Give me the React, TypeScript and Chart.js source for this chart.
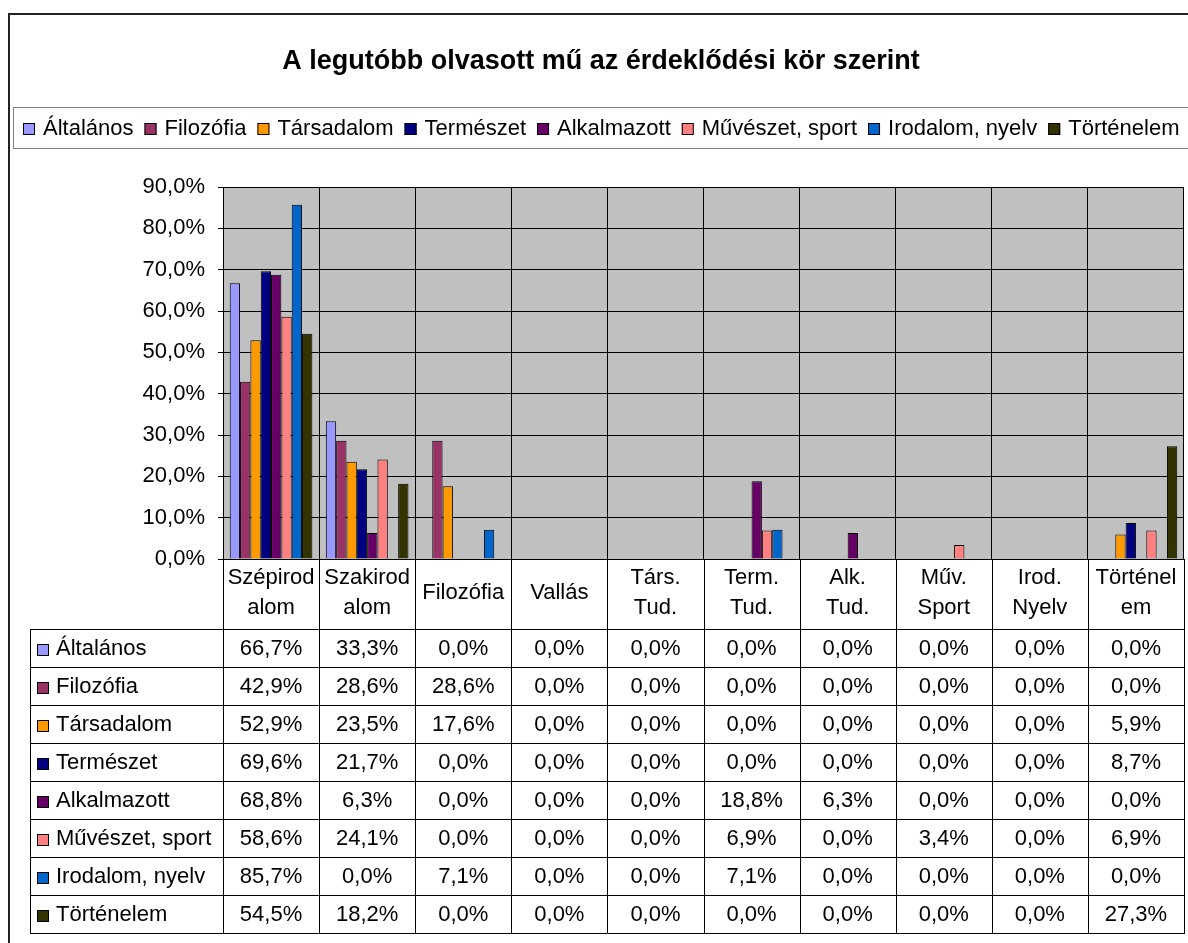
import React, { useEffect, useRef } from "react";
import { Chart, registerables } from "chart.js";

Chart.register(...registerables);

const TITLE = "A legutóbb olvasott mű az érdeklődési kör szerint";

const categoryLines: string[][] = [
  ["Szépirod", "alom"],
  ["Szakirod", "alom"],
  ["Filozófia"],
  ["Vallás"],
  ["Társ.", "Tud."],
  ["Term.", "Tud."],
  ["Alk.", "Tud."],
  ["Műv.", "Sport"],
  ["Irod.", "Nyelv"],
  ["Történel", "em"],
];

const seriesNames = [
  "Általános",
  "Filozófia",
  "Társadalom",
  "Természet",
  "Alkalmazott",
  "Művészet, sport",
  "Irodalom, nyelv",
  "Történelem",
];

const seriesColors = [
  "#9999FF",
  "#993366",
  "#FF9900",
  "#000080",
  "#660066",
  "#FF8080",
  "#0066CC",
  "#333300",
];

const altalanos = [66.7, 33.3, 0, 0, 0, 0, 0, 0, 0, 0];
const filozofia = [42.9, 28.6, 28.6, 0, 0, 0, 0, 0, 0, 0];
const tarsadalom = [52.9, 23.5, 17.6, 0, 0, 0, 0, 0, 0, 5.9];
const termeszet = [69.6, 21.7, 0, 0, 0, 0, 0, 0, 0, 8.7];
const alkalmazott = [68.8, 6.3, 0, 0, 0, 18.8, 6.3, 0, 0, 0];
const muveszet = [58.6, 24.1, 0, 0, 0, 6.9, 0, 3.4, 0, 6.9];
const irodalom = [85.7, 0, 7.1, 0, 0, 7.1, 0, 0, 0, 0];
const tortenelem = [54.5, 18.2, 0, 0, 0, 0, 0, 0, 0, 27.3];

const seriesValues = [
  altalanos,
  filozofia,
  tarsadalom,
  termeszet,
  alkalmazott,
  muveszet,
  irodalom,
  tortenelem,
];

const yTicks = [0, 10, 20, 30, 40, 50, 60, 70, 80, 90];

const FONT = '"Liberation Sans", Arial, sans-serif';
const fmt = (v: number) => v.toFixed(1).replace(".", ",") + "%";

const W = 1188;
const H = 943;

const decorPlugin = {
  id: "decor",
  beforeDraw(chart: any) {
    const ctx = chart.ctx as CanvasRenderingContext2D;
    const ca = chart.chartArea;
    ctx.save();
    ctx.fillStyle = "#ffffff";
    ctx.fillRect(0, 0, W, H);
    // outer border
    ctx.strokeStyle = "#222222";
    ctx.lineWidth = 2;
    ctx.strokeRect(9, 14, W + 20, H + 20);
    // title (sized to span the reference width)
    ctx.fillStyle = "#000000";
    ctx.font = `bold 100px ${FONT}`;
    const tw = ctx.measureText(TITLE).width;
    const ts = Math.min(27, (100 * 642) / tw);
    ctx.font = `bold ${ts}px ${FONT}`;
    ctx.textAlign = "center";
    ctx.textBaseline = "middle";
    ctx.fillText(TITLE, 601, 62);
    // legend box
    ctx.strokeStyle = "#808080";
    ctx.lineWidth = 1;
    ctx.strokeRect(13.5, 107.5, W + 20, 41);
    ctx.font = `22px ${FONT}`;
    ctx.textAlign = "left";
    let x = 23;
    const ly = 128;
    seriesNames.forEach((name, i) => {
      ctx.fillStyle = seriesColors[i];
      ctx.fillRect(x, ly - 5, 12, 12);
      ctx.strokeStyle = "#000000";
      ctx.strokeRect(x + 0.5, ly - 4.5, 11, 11);
      ctx.fillStyle = "#000000";
      ctx.fillText(name, x + 20, ly + 1);
      x += 20 + ctx.measureText(name).width + 11;
    });
    // plot background
    ctx.fillStyle = "#C0C0C0";
    ctx.fillRect(ca.left, ca.top, ca.right - ca.left, ca.bottom - ca.top);
    ctx.restore();
  },
  afterDraw(chart: any) {
    const ctx = chart.ctx as CanvasRenderingContext2D;
    const ca = chart.chartArea;
    const n = categoryLines.length;
    const cw = (ca.right - ca.left) / n;
    const top = ca.bottom;
    const headerBottom = top + 70;
    const rowH = 38;
    const tableLeft = 30;
    const tableBottom = headerBottom + rowH * seriesNames.length;
    const px = (v: number) => Math.round(v) + 0.5;
    ctx.save();
    ctx.strokeStyle = "#000000";
    ctx.lineWidth = 1;
    ctx.beginPath();
    for (let i = 0; i <= n; i++) {
      const xx = px(ca.left + i * cw);
      ctx.moveTo(xx, top);
      ctx.lineTo(xx, tableBottom);
    }
    ctx.moveTo(px(tableLeft), headerBottom);
    ctx.lineTo(px(tableLeft), tableBottom);
    for (let r = 0; r <= seriesNames.length; r++) {
      const yy = px(headerBottom + r * rowH);
      ctx.moveTo(tableLeft, yy);
      ctx.lineTo(px(ca.right) + 0.5, yy);
    }
    ctx.stroke();

    ctx.fillStyle = "#000000";
    ctx.font = `22px ${FONT}`;
    ctx.textBaseline = "middle";
    ctx.textAlign = "center";
    categoryLines.forEach((lines, i) => {
      const cx = ca.left + (i + 0.5) * cw;
      if (lines.length === 1) {
        ctx.fillText(lines[0], cx, top + 34);
      } else {
        ctx.fillText(lines[0], cx, top + 19);
        ctx.fillText(lines[1], cx, top + 49);
      }
    });

    seriesNames.forEach((name, r) => {
      const cy = headerBottom + r * rowH + rowH / 2 + 1;
      ctx.fillStyle = seriesColors[r];
      ctx.fillRect(37, cy - 5, 12, 12);
      ctx.strokeStyle = "#000000";
      ctx.strokeRect(37.5, cy - 4.5, 11, 11);
      ctx.fillStyle = "#000000";
      ctx.textAlign = "left";
      ctx.fillText(name, 56, cy);
      ctx.textAlign = "center";
      seriesValues[r].forEach((v, i) => {
        ctx.fillText(fmt(v), ca.left + (i + 0.5) * cw, cy);
      });
    });
    ctx.restore();
  },
};

export default function App() {
  const ref = useRef<HTMLCanvasElement>(null);
  useEffect(() => {
    document.body.style.margin = "0";
    const canvas = ref.current!;
    const chart = new Chart(canvas, {
      type: "bar",
      data: {
        labels: categoryLines.map((l) => l.join("")),
        datasets: seriesNames.map((name, i) => ({
          label: name,
          data: seriesValues[i].map((v) => (v === 0 ? null : v)),
          backgroundColor: seriesColors[i],
          borderColor: "#000000",
          borderWidth: 1,
          categoryPercentage: 0.86,
          barPercentage: 1,
        })),
      },
      options: {
        responsive: false,
        animation: false,
        devicePixelRatio: 1,
        layout: { padding: { top: 187, right: 4, bottom: 384, left: 0 } },
        plugins: {
          legend: { display: false },
          title: { display: false },
          tooltip: { enabled: false },
        },
        scales: {
          x: {
            type: "category",
            offset: true,
            grid: { offset: true, color: "#000000", lineWidth: 1, drawTicks: false },
            border: { display: true, color: "#000000" },
            ticks: { display: false },
            afterFit: (s: any) => {
              s.height = 0;
            },
          },
          y: {
            min: 0,
            max: 90,
            afterBuildTicks: (s: any) => {
              s.ticks = yTicks.map((v) => ({ value: v }));
            },
            grid: { color: "#000000", lineWidth: 1, tickLength: 5 },
            border: { display: true, color: "#000000" },
            ticks: {
              padding: 13,
              color: "#000000",
              font: { family: FONT, size: 22 },
              callback: (v: any) => fmt(Number(v)),
            },
            afterFit: (s: any) => {
              s.width = 223;
            },
          },
        },
      },
      plugins: [decorPlugin],
    });
    return () => chart.destroy();
  }, []);
  return (
    <div style={{ position: "fixed", left: 0, top: 0, width: W, height: H }}>
      <canvas ref={ref} width={W} height={H} style={{ width: W, height: H, display: "block" }} />
    </div>
  );
}
